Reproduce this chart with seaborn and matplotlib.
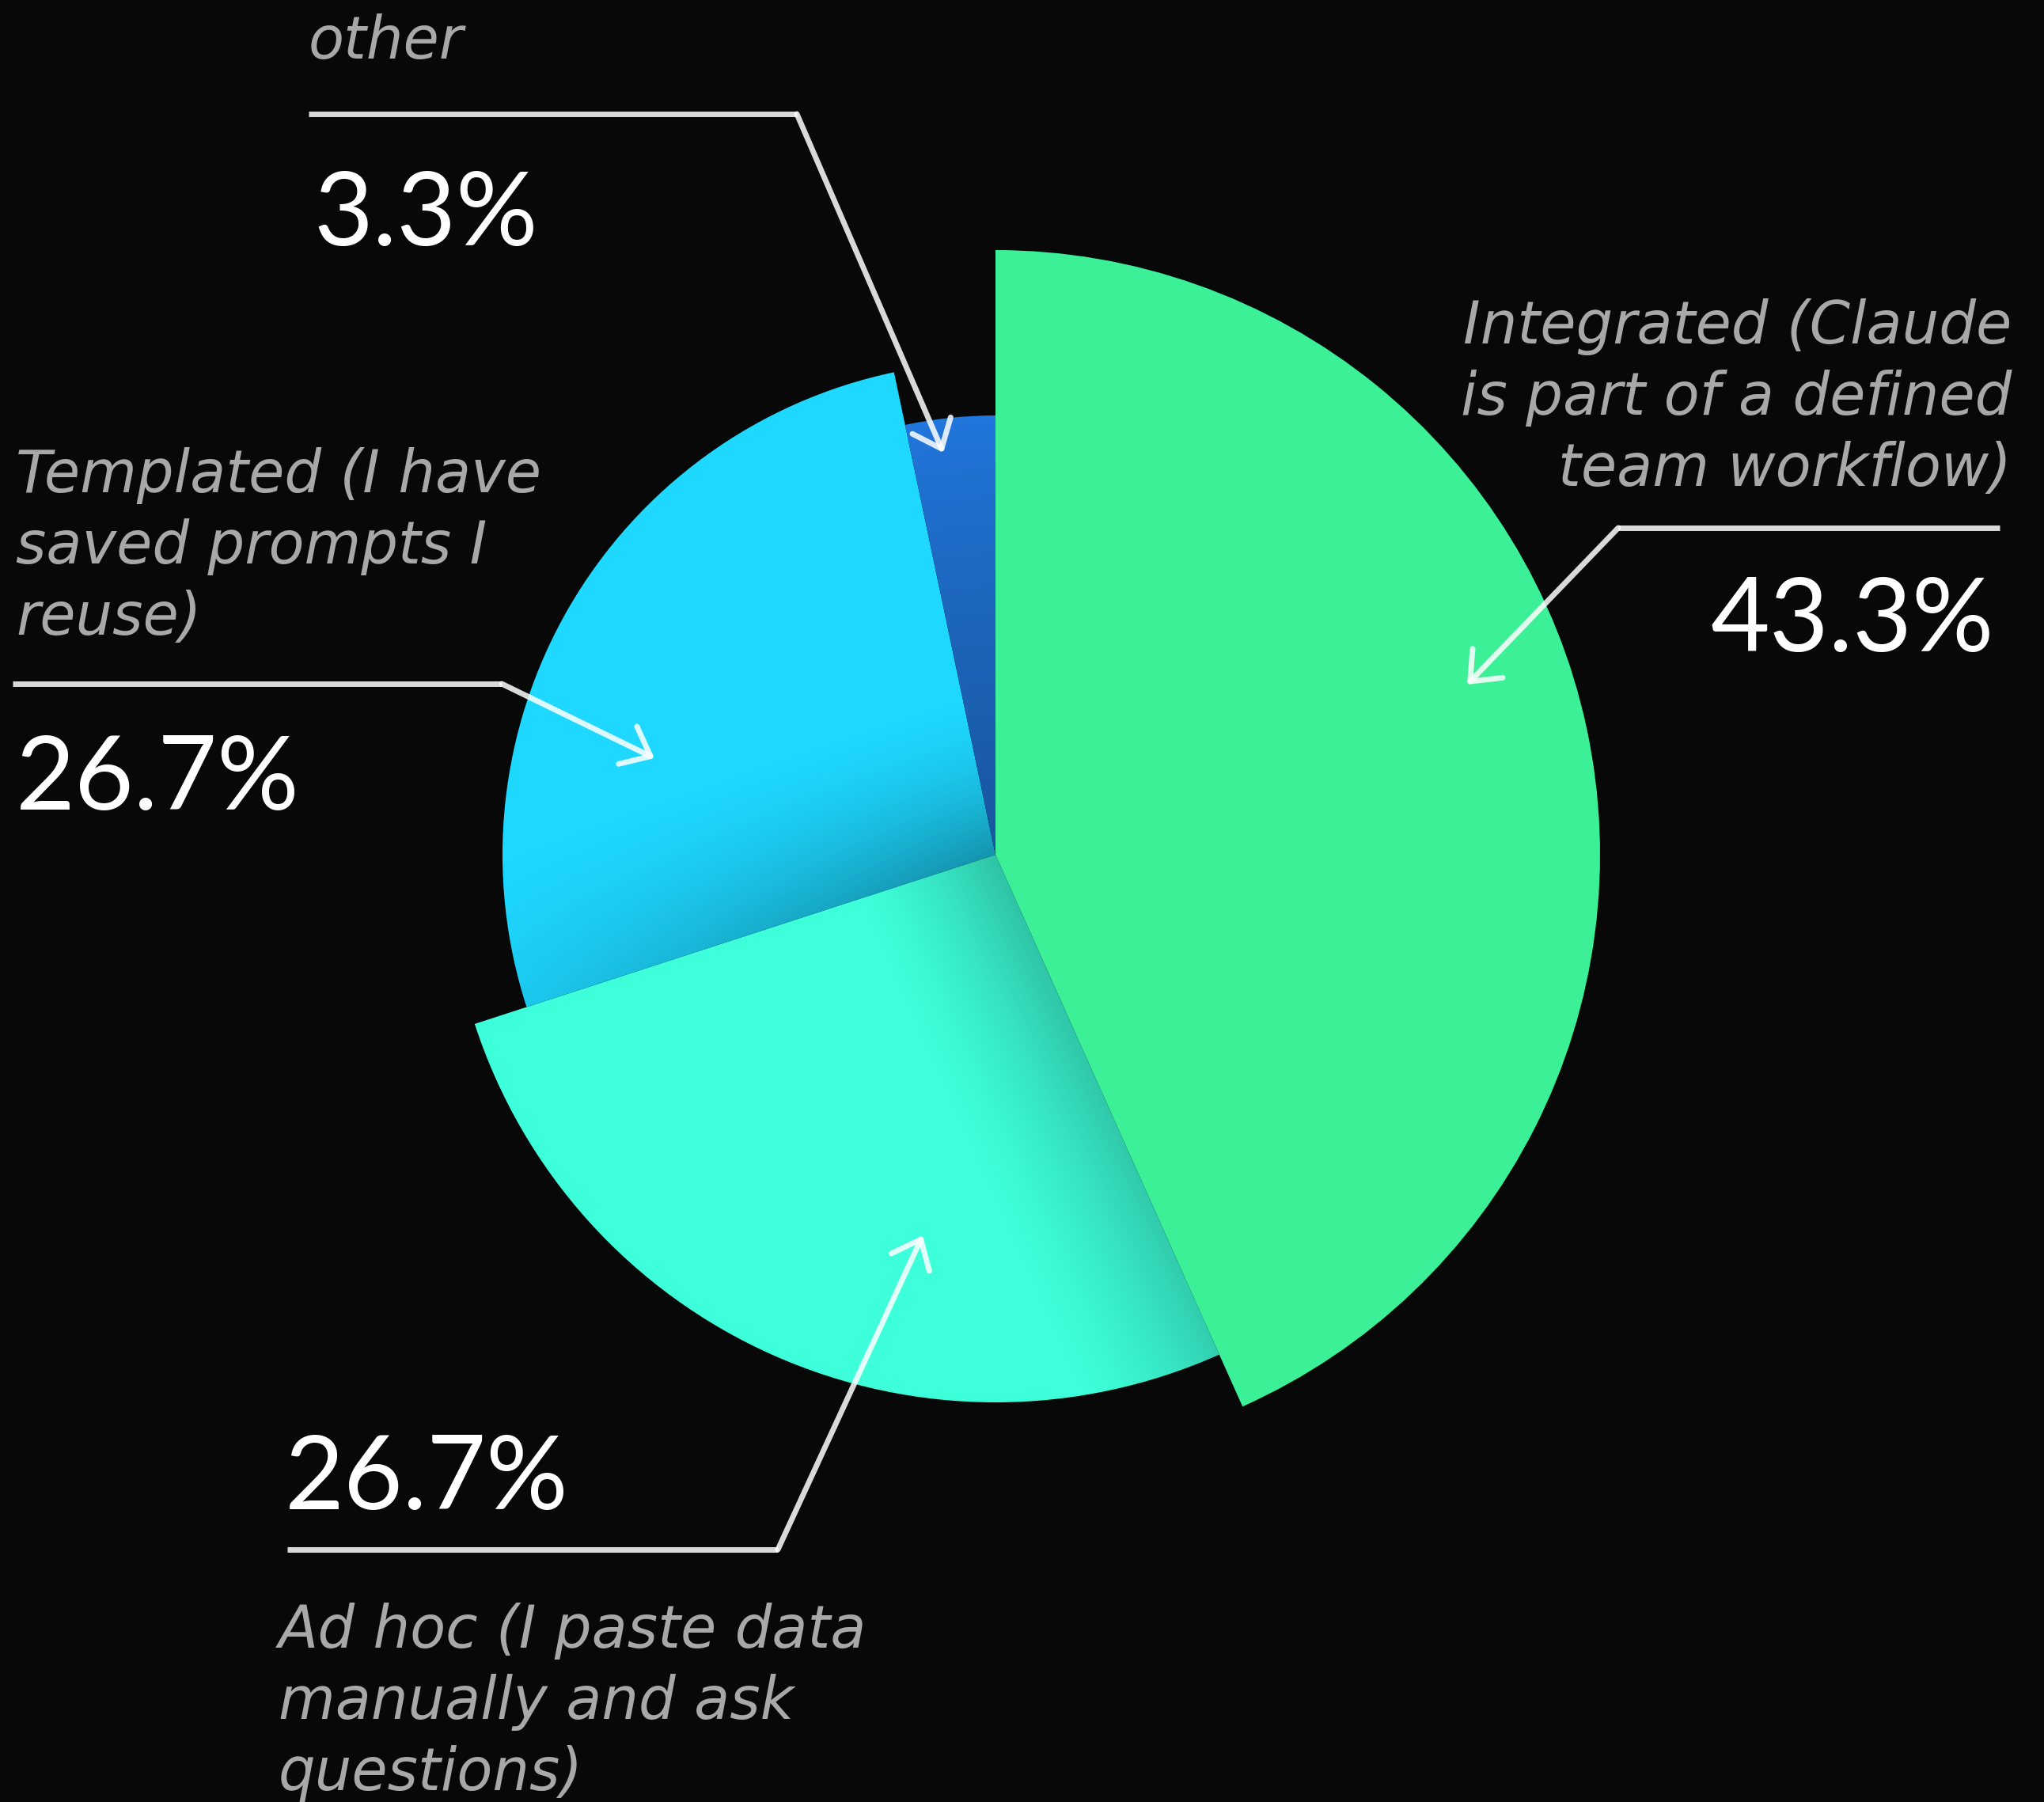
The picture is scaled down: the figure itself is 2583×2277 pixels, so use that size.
import numpy as np
import matplotlib
matplotlib.use("Agg")
import matplotlib.pyplot as plt
import seaborn as sns

# survey answers, clockwise from 12 o'clock
categories = [
    "Integrated (Claude\nis part of a defined\nteam workflow)",
    "Ad hoc (I paste data\nmanually and ask\nquestions)",
    "Templated (I have\nsaved prompts I\nreuse)",
    "other",
]
shares = [43.3, 26.7, 26.7, 3.3]
pct_labels = ["43.3%", "26.7%", "26.7%", "3.3%"]
slice_colors = ["#3BF097", "#3DFFD9", "#1ED8FF", "#2277DD"]

# ---- layout / style (pixel units, y measured from the top) ----
W, H = 2583, 2277
BG = "#080808"
CENTER = (1258, H - 1080)
RADII = [764, 692, 623, 555]
LABEL_COLOR = "#A8A8A8"
LINE_STEP = 90

# (label anchor, label align, pct anchor, pct align, leader polyline)
LAYOUT = [
    dict(lab=(2542, 434), lab_ha="right", pct=(2520, 823), pct_ha="right",
         leader=[(2527, 667), (2045, 667), (1854, 865)]),
    dict(lab=(352, 2082), lab_ha="left", pct=(360, 1907), pct_ha="left",
         leader=[(363, 1958), (983, 1958), (1166, 1561)]),
    dict(lab=(20, 622), lab_ha="left", pct=(20, 1023), pct_ha="left",
         leader=[(16, 864), (634, 864), (827, 958)]),
    dict(lab=(390, 74), lab_ha="left", pct=(396, 310), pct_ha="left",
         leader=[(390, 144), (1007, 144), (1192, 572)]),
]

# shading: (kind, strength, width, fade toward rim)
SHADES = [None, ("edge", 0.24, 190, 0.2), ("edge", 0.32, 210, 0.75), ("radial", 0.28, 0, 0)]

sns.set_theme(style="dark")
plt.rcParams["font.family"] = ["DejaVu Sans"]

palette = sns.color_palette(slice_colors)


def Y(y):
    return H - y


def shade_wedge(ax, wedge, kind, strength, width, fade):
    cx, cy = wedge.center
    r = wedge.r
    t2 = np.radians(wedge.theta2)
    xs = np.arange(cx - r, cx + r + 2, 2.0)
    ys = np.arange(cy - r, cy + r + 2, 2.0)
    X, Yg = np.meshgrid(xs, ys)
    dx, dy = X - cx, Yg - cy
    rr = np.hypot(dx, dy)
    if kind == "edge":
        d = np.abs(np.cos(t2) * dy - np.sin(t2) * dx)
        a = strength * np.clip(1 - d / width, 0, 1) ** 1.5 * (1 - fade * rr / r)
    else:
        a = strength * np.clip(1 - rr / r, 0, 1) ** 0.8
    rgba = np.zeros(X.shape + (4,))
    rgba[..., 3] = np.clip(a, 0, 1)
    im = ax.imshow(rgba, extent=(xs[0], xs[-1], ys[0], ys[-1]), origin="lower",
                   interpolation="bilinear", zorder=2)
    im.set_clip_path(wedge)


fig = plt.figure(figsize=(W / 100, H / 100), dpi=100)
fig.patch.set_facecolor(BG)
ax = fig.add_axes([0, 0, 1, 1])
ax.set_facecolor(BG)

wedges, _ = ax.pie(shares, colors=palette, startangle=90, counterclock=False,
                   center=CENTER, radius=1,
                   wedgeprops=dict(linewidth=0, zorder=1))
for w, r in zip(wedges, RADII):
    w.set_radius(r)

for w, sh in zip(wedges, SHADES):
    if sh is not None:
        shade_wedge(ax, w, *sh)

line_kw = dict(color="white", alpha=0.85, lw=5, solid_capstyle="butt",
               solid_joinstyle="miter", zorder=5)

for cat, pct, lay in zip(categories, pct_labels, LAYOUT):
    # category label, one line at a time
    lx, ly = lay["lab"]
    for k, line in enumerate(cat.split("\n")):
        ax.text(lx, Y(ly + k * LINE_STEP), line, ha=lay["lab_ha"], va="baseline",
                fontsize=53, fontstyle="oblique", color=LABEL_COLOR, zorder=6)
    px, py = lay["pct"]
    ax.text(px, Y(py), pct, ha=lay["pct_ha"], va="baseline",
            fontsize=93, family=["Lato", "DejaVu Sans"], color="white", zorder=6)

    pts = lay["leader"]
    ax.plot([p[0] for p in pts[:2]], [Y(p[1]) for p in pts[:2]], **line_kw)
    ax.annotate("", xy=(pts[2][0], Y(pts[2][1])), xytext=(pts[1][0], Y(pts[1][1])),
                arrowprops=dict(arrowstyle="->,head_length=1.15,head_width=0.95",
                                mutation_scale=20, color="white", alpha=0.85,
                                lw=5, capstyle="round", joinstyle="round",
                                shrinkA=0, shrinkB=0),
                zorder=5)

ax.set_xlim(0, W)
ax.set_ylim(0, H)
ax.set_aspect("equal")
ax.axis("off")

fig.savefig("out.png", dpi=100, facecolor=BG)
